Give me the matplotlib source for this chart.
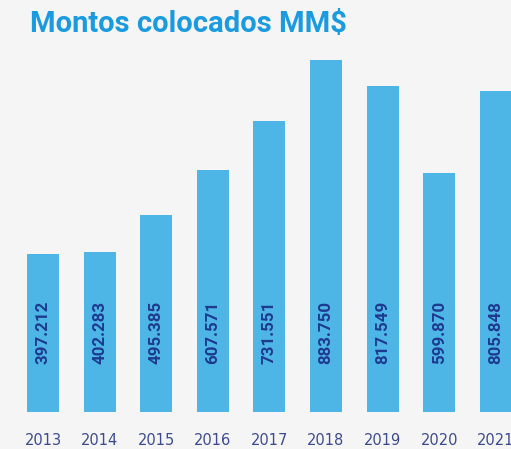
import matplotlib
matplotlib.use("Agg")
import matplotlib.pyplot as plt

years = ["2013", "2014", "2015", "2016", "2017", "2018", "2019", "2020", "2021"]
values = [397.212, 402.283, 495.385, 607.571, 731.551, 883.750, 817.549, 599.870, 805.848]
labels = ["397.212", "402.283", "495.385", "607.571", "731.551", "883.750", "817.549", "599.870", "805.848"]
title = "Montos colocados MM$"

W, H = 511, 449
bg = "#f5f5f5"
fig = plt.figure(figsize=(W / 100, H / 100), dpi=100, facecolor=bg)

bottom_px = 412
top_px = 50
ax = fig.add_axes([0, 1 - bottom_px / H, 1, (bottom_px - top_px) / H])
ax.set_facecolor(bg)

x = list(range(len(years)))
ax.bar(x, values, width=0.565, color="#4db6e6", zorder=2)

ymax = 883.75 * (bottom_px - top_px) / (bottom_px - 60)
ax.set_ylim(0, ymax)
step = 56.6
ax.set_xlim(-43 / step, (W - 43) / step)

label_y = 883.75 * (bottom_px - 364) / (bottom_px - 60)
for xi, lab in zip(x, labels):
    ax.text(xi, label_y, lab, rotation=90, ha="center", va="bottom",
            color="#1e3a8f", fontsize=12.2, fontweight="bold", family="Roboto")

ax.set_xticks(x)
ax.set_xticklabels(years, color="#3d4b8e", fontsize=10.5, family="DejaVu Sans")
ax.tick_params(axis="x", length=0, pad=15)
ax.set_yticks([])
for s in ax.spines.values():
    s.set_visible(False)

fig.text(30 / W, 1 - 32 / H, title, color="#1a9be0", fontsize=21,
         fontweight="bold", family="Roboto", ha="left", va="baseline")

fig.savefig("out.png", dpi=100, facecolor=bg)
